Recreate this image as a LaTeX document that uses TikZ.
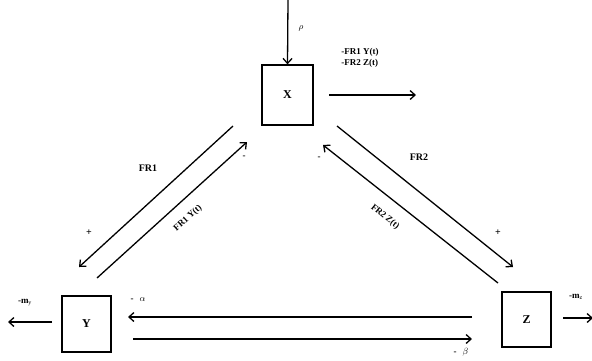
\documentclass[tikz,border=0pt]{standalone}
\usepackage{fontspec}
\setmainfont{Liberation Serif}
\usetikzlibrary{arrows.meta}

\tikzset{
  box/.style={draw, line width=1.3pt, inner sep=0pt, font=\bfseries\large},
  flow/.style={line width=1.3pt},
  lbl/.style={font=\bfseries\small, inner sep=1pt},
  sgn/.style={font=\bfseries\normalsize, inner sep=1pt},
}

\begin{document}
\begin{tikzpicture}[>={Straight Barb[length=5pt,width=9pt,line width=1.3pt]}, x=1pt, y=-1pt]
  \useasboundingbox (0,0) rectangle (592,360);
  \node[box, minimum width=51pt, minimum height=60pt] (X) at (287.5,95) {X};
  \node[box, minimum width=49pt, minimum height=56pt] (Y) at (86.5,324) {Y};
  \node[box, minimum width=49pt, minimum height=55pt] (Z) at (526.5,319.5) {Z};
  % free ends of the arrows
  \coordinate (in) at (288,0);
  \coordinate (xs) at (329,95);   \coordinate (xe) at (416,95);
  \coordinate (ys) at (52,322);   \coordinate (ye) at (8,322);
  \coordinate (zs) at (563,318);  \coordinate (ze) at (593,318);
  \coordinate (a1) at (233,126);  \coordinate (a2) at (79,267);
  \coordinate (b1) at (97,278);   \coordinate (b2) at (247,142);
  \coordinate (c1) at (337,126);  \coordinate (c2) at (513,267);
  \coordinate (d1) at (498,283);  \coordinate (d2) at (323,145);
  \coordinate (e1) at (472,317);  \coordinate (e2) at (128,317);
  \coordinate (f1) at (133,339);  \coordinate (f2) at (472,339);
  \draw[flow,->] (in) -- (X.north);
  \draw[flow,->] (xs) -- (xe);
  \draw[flow,->] (ys) -- (ye);
  \draw[flow,->] (zs) -- (ze);
  \draw[flow,->] (a1) -- (a2);
  \draw[flow,->] (b1) -- (b2);
  \draw[flow,->] (c1) -- (c2);
  \draw[flow,->] (d1) -- (d2);
  \draw[flow,->] (e1) -- (e2);
  \draw[flow,->] (f1) -- (f2);
  % labels
  \node[lbl] (rho) at (301,28) {$\rho$};
  \node[lbl, align=left] (out) at (360,58) {-FR1 Y(t)\\-FR2 Z(t)};
  \node[lbl] (my) at (25,303) {-m$_\mathrm{y}$};
  \node[lbl] (mz) at (576,297) {-m$_\mathrm{z}$};
  \node[lbl] (al) at (138,300) {-\hspace{6pt}$\alpha$};
  \node[lbl] (be) at (461,352) {-\hspace{6pt}$\beta$};
  \node[lbl, font=\bfseries\normalsize] (fr1) at (148,168) {FR1};
  \node[lbl, font=\bfseries\normalsize] (fr2) at (419,157) {FR2};
  \node[lbl, rotate=42] (fr1y) at (188,218) {FR1 Y(t)};
  \node[lbl, rotate=-39] (fr2z) at (385,217) {FR2 Z(t)};
  \node[sgn] (p1) at (89,233) {+};
  \node[sgn] (p2) at (498,233) {+};
  \node[lbl] (m1) at (244,157) {-};
  \node[lbl] (m2) at (319,158) {-};
\end{tikzpicture}
\end{document}
